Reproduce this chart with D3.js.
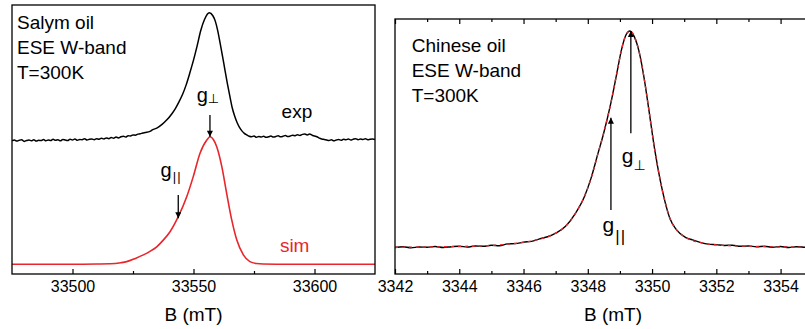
<!DOCTYPE html>
<meta charset="utf-8">
<style>
    body { margin: 0; background: #fff; }
    svg text { font-family: "Liberation Sans", Arial, sans-serif; fill: #000; }
    .frame { fill: none; stroke: #000; stroke-width: 1.3px; }
    .axis path { display: none; }
    .axis line { stroke: #000; stroke-width: 1.2px; }
    .axis text { font-size: 16px; font-family: "Liberation Sans", Arial, sans-serif; }
</style>
<svg width="805" height="329"></svg>
<script src="https://d3js.org/d3.v7.min.js"></script>
<script>

    // Salym oil: [B (mT), intensity a.u.]
    var salymExp = [
        [33475,49.5],[33476,49.8],[33477,49.4],[33478,49.7],[33479,49.9],[33480,49.3],[33481,49.6],[33482,49.8],
        [33483,49.5],[33484,49.9],[33485,49.4],[33486,49.7],[33487,49.6],[33488,50.0],[33489,49.5],[33490,49.8],
        [33491,49.6],[33492,50.1],[33493,49.7],[33494,49.9],[33495,49.5],[33496,50.0],[33497,49.8],[33498,49.6],
        [33499,50.1],[33500,49.8],[33501,50.2],[33502,49.7],[33503,50.0],[33504,49.9],[33505,50.3],[33506,49.8],
        [33507,50.1],[33508,50.2],[33509,49.9],[33510,50.3],[33511,50.1],[33512,50.5],[33513,50.2],[33514,50.6],
        [33515,50.3],[33516,50.7],[33517,50.5],[33518,50.9],[33519,50.6],[33520,51.0],[33521,51.2],[33522,50.9],
        [33523,51.4],[33524,51.3],[33525,51.7],[33526,51.6],[33527,52.0],[33528,52.1],[33529,52.4],[33530,52.6],
        [33532,53.0],[33533,53.6],[33535,54.3],[33537,55.6],[33539,57.3],[33541,59.5],[33542.5,61.5],[33544,64.0],
        [33545.5,66.8],[33547,70.4],[33548.5,74.8],[33550,79.5],[33551.5,84.8],[33553,90.5],[33554.5,94.5],
        [33556.5,97.1],[33558,96.0],[33559,94.0],[33560,90.5],[33561,85.8],[33562,80.9],[33563,75.8],[33564,70.8],
        [33565,66.2],[33566,61.8],[33567,58.7],[33568,56.3],[33569,54.5],[33570,53.2],[33571,52.3],[33572,51.7],
        [33573,51.2],[33574,51.0],[33575,51.3],[33576,50.8],[33577,51.1],[33578,50.9],[33579,51.2],[33580,50.8],
        [33581,51.0],[33582,51.3],[33583,50.9],[33584,51.1],[33585,51.4],[33586,51.0],[33587,51.2],[33588,51.5],
        [33589,51.1],[33590,51.3],[33591,51.6],[33592,51.4],[33593,51.8],[33594,51.5],[33595,51.9],[33596,52.0],
        [33597,51.7],[33598,52.0],[33599,51.6],[33600,51.3],[33601,51.0],[33602,50.5],[33603,50.2],[33604,50.0],
        [33605,49.8],[33606,49.6],[33607,49.9],[33608,49.5],[33609,49.8],[33610,50.0],[33611,49.7],[33612,50.1],
        [33613,49.9],[33614,50.2],[33615,49.8],[33616,50.1],[33617,50.3],[33618,49.9],[33619,50.2],[33620,50.0],
        [33621,50.3],[33622,49.9],[33623,50.1],[33624,50.2],[33625,50.0]
    ];

    var salymSim = [
        [33475,3.6],[33500,3.6],[33510,3.7],[33515.5,3.8],[33520,4.2],[33522.4,4.6],[33526,5.8],[33529.3,7.1],
        [33532,8.4],[33534.8,10.1],[33537.5,12.6],[33540.3,15.7],[33543.7,21.3],[33547.2,28.7],[33549.9,36.2],
        [33552.7,44.9],[33555.5,49.8],[33556.8,51.0],[33558.2,50.0],[33559.6,47.3],[33561.7,39.9],[33563.7,30.0],
        [33565.8,20.1],[33567.9,12.6],[33570.6,7.1],[33573.3,4.6],[33576,3.9],[33578.8,3.7],[33590,3.6],[33625,3.6]
    ];

    // Chinese oil
    var chineseExp = [
        [3342,10.4],[3342.25,10.7],[3342.5,10.3],[3342.75,10.6],[3343,10.5],[3343.25,10.8],[3343.5,10.4],
        [3343.75,10.7],[3344,10.9],[3344.25,10.6],[3344.5,11.0],[3344.75,10.9],[3345,11.3],[3345.25,11.1],
        [3345.5,11.8],[3345.75,11.9],[3346,12.5],[3346.25,12.8],[3346.5,13.8],[3346.75,14.6],[3347,16.0],
        [3347.3,18.6],[3347.6,23.5],[3347.9,30.5],[3348.1,37.5],[3348.3,46.5],[3348.5,55.5],[3348.7,66.0],
        [3348.9,78.5],[3349.05,88.0],[3349.18,93.5],[3349.31,95.3],[3349.45,93.0],[3349.6,87.0],[3349.75,77.0],
        [3349.9,64.5],[3350.08,49.0],[3350.25,37.0],[3350.4,28.5],[3350.55,22.0],[3350.75,17.5],[3351.05,14.3],
        [3351.25,13.4],[3351.5,12.4],[3351.75,11.7],[3352,11.5],[3352.25,11.2],[3352.5,11.3],[3352.75,10.9],
        [3353,11.0],[3353.25,10.7],[3353.5,10.9],[3353.75,10.5],[3354,10.8],[3354.25,10.4],[3354.5,10.7],
        [3354.75,10.5],[3355,10.3],[3355.5,10.6]
    ];

    var chineseSim = [
        [3342,10.5],[3343,10.6],[3344,10.8],[3345,11.2],[3345.5,11.7],[3346,12.4],[3346.5,13.7],[3347,16.0],
        [3347.3,18.6],[3347.6,23.5],[3347.9,30.5],[3348.1,37.5],[3348.3,46.5],[3348.5,55.5],[3348.7,66.0],
        [3348.9,78.5],[3349.05,88.0],[3349.18,93.5],[3349.31,95.3],[3349.45,93.0],[3349.6,87.0],[3349.75,77.0],
        [3349.9,64.5],[3350.08,49.0],[3350.25,37.0],[3350.4,28.5],[3350.55,22.0],[3350.75,17.5],[3351.05,14.3],
        [3351.5,12.3],[3352,11.4],[3353,10.9],[3354,10.6],[3356,10.5]
    ];

    var salymMajor = [33500, 33550, 33600];
    var salymMinor = [33525, 33575];
    var chineseMajor = [3342, 3344, 3346, 3348, 3350, 3352, 3354];
    var chineseMinor = [3343, 3345, 3347, 3349, 3351, 3353, 3355];

    var salymInfo = ["Salym oil", "ESE W-band", "T=300K"];
    var chineseInfo = ["Chinese oil", "ESE W-band", "T=300K"];

    // arrows: [B, tail intensity, tip intensity], labels: [B, intensity]
    var salymArrows = [[33556.8, 59.1, 51.0], [33543.7, 29.4, 20.7]];
    var chineseArrows = [[3349.34, 55.2, 95.3], [3348.72, 25.1, 61.3]];
    var salymG = [[33551.3, 64.0, "⊥"], [33536.4, 36.2, "||"]];
    var chineseG = [[3349.06, 43.5, "⊥"], [3348.46, 16.5, "||"]];

    var svg = d3.select("svg");
    var red = "#e8262b";

    var defs = svg.append("defs");
    defs.append("marker")
        .attr("id", "head")
        .attr("markerUnits", "userSpaceOnUse")
        .attr("viewBox", "0 0 10 10")
        .attr("refX", 10).attr("refY", 5)
        .attr("markerWidth", 8).attr("markerHeight", 6)
        .attr("orient", "auto")
        .append("path")
        .attr("d", "M0,0 L10,5 L0,10 Z")
        .attr("fill", "#000");

    function panel(id, x, y, opts) {
        var x0 = x.range()[0], x1 = x.range()[1];
        var yb = y.range()[0], yt = y.range()[1];

        defs.append("clipPath").attr("id", id + "-clip")
            .append("rect")
            .attr("x", x0).attr("y", yt)
            .attr("width", x1 - x0).attr("height", yb - yt);

        var g = svg.append("g");
        var line = d3.line()
            .x(function(d) { return x(d[0]); })
            .y(function(d) { return y(d[1]); })
            .curve(d3.curveMonotoneX);

        var plot = g.append("g").attr("clip-path", "url(#" + id + "-clip)");
        opts.series.forEach(function(s) {
            plot.append("path")
                .datum(s.data)
                .attr("fill", "none")
                .attr("stroke", s.color)
                .attr("stroke-width", s.width)
                .attr("stroke-dasharray", s.dash || null)
                .attr("d", line);
        });

        // bottom ticks, inward
        g.append("g").attr("class", "axis")
            .attr("transform", "translate(0," + yb + ")")
            .call(d3.axisBottom(x).tickValues(opts.major).tickSize(-5).tickPadding(6.6)
                .tickFormat(d3.format("d")));
        g.append("g").attr("class", "axis")
            .attr("transform", "translate(0," + yb + ")")
            .call(d3.axisBottom(x).tickValues(opts.minor).tickSize(-3).tickFormat(""));
        if (opts.top) {
            g.append("g").attr("class", "axis")
                .attr("transform", "translate(0," + yt + ")")
                .call(d3.axisTop(x).tickValues(opts.major).tickSize(-5).tickFormat(""));
            g.append("g").attr("class", "axis")
                .attr("transform", "translate(0," + yt + ")")
                .call(d3.axisTop(x).tickValues(opts.minor).tickSize(-3).tickFormat(""));
        }
        g.selectAll(".axis .tick text").style("font-size", "16px");

        g.append("rect").attr("class", "frame")
            .attr("x", x0).attr("y", yt)
            .attr("width", x1 - x0).attr("height", yb - yt);

        g.append("text")
            .attr("x", opts.titleX).attr("y", 321)
            .attr("text-anchor", "middle")
            .style("font-size", "19px")
            .text("B (mT)");

        g.selectAll(".info")
            .data(opts.info)
            .enter().append("text")
            .attr("x", opts.infoX)
            .attr("y", function(d, i) { return opts.infoY + i * 25.2; })
            .style("font-size", "19px")
            .text(function(d) { return d; });

        g.selectAll(".arrow")
            .data(opts.arrows)
            .enter().append("line")
            .attr("x1", function(d) { return x(d[0]); })
            .attr("x2", function(d) { return x(d[0]); })
            .attr("y1", function(d) { return y(d[1]); })
            .attr("y2", function(d) { return y(d[2]); })
            .attr("stroke", "#000")
            .attr("stroke-width", 1.3)
            .attr("marker-end", "url(#head)");

        var lab = g.selectAll(".glab")
            .data(opts.labels)
            .enter().append("text")
            .attr("x", function(d) { return x(d[0]); })
            .attr("y", function(d) { return y(d[1]); })
            .style("font-size", opts.gSize + "px");
        lab.append("tspan").text("g");
        lab.append("tspan")
            .attr("dx", function(d) { return d[2] === "||" ? 1 : 0; })
            .attr("dy", function(d) { return d[2] === "||" ? opts.parDy : opts.perpDy; })
            .style("font-size", function(d) { return (d[2] === "||" ? opts.parSize : opts.perpSize) + "px"; })
            .style("font-family", function(d) { return d[2] === "||" ? null : "DejaVu Sans"; })
            .style("letter-spacing", function(d) { return d[2] === "||" ? "1.2px" : null; })
            .text(function(d) { return d[2]; });
        return g;
    }

    var xL = d3.scaleLinear().domain([33475, 33625]).range([12, 375]);
    var yL = d3.scaleLinear().domain([0, 100]).range([274, 5]);
    var xR = d3.scaleLinear().domain([3342, 3355.6]).range([395, 832]);
    var yR = d3.scaleLinear().domain([0, 100]).range([274, 19]);

    var left = panel("salym", xL, yL, {
        series: [
            { data: salymExp, color: "#000", width: 1.5 },
            { data: salymSim, color: red, width: 1.6 }
        ],
        major: salymMajor, minor: salymMinor, top: false,
        titleX: 193.5, info: salymInfo, infoX: 17, infoY: 28.5,
        arrows: salymArrows, labels: salymG,
        gSize: 20, perpSize: 13, perpDy: 1, parSize: 13, parDy: 4
    });

    left.append("text")
        .attr("x", xL(33586.4)).attr("y", yL(57.9))
        .style("font-size", "19px")
        .text("exp");
    left.append("text")
        .attr("x", xL(33585.7)).attr("y", yL(8.3))
        .style("font-size", "19px")
        .style("fill", red)
        .text("sim");

    panel("chinese", xR, yR, {
        series: [
            { data: chineseExp, color: "#000", width: 1.4 },
            { data: chineseSim, color: red, width: 1.4, dash: "3,4" }
        ],
        major: chineseMajor, minor: chineseMinor, top: true,
        titleX: 613, info: chineseInfo, infoX: 411.7, infoY: 51.7,
        arrows: chineseArrows, labels: chineseG,
        gSize: 21, perpSize: 14, perpDy: 7, parSize: 17, parDy: 10
    });

</script>
